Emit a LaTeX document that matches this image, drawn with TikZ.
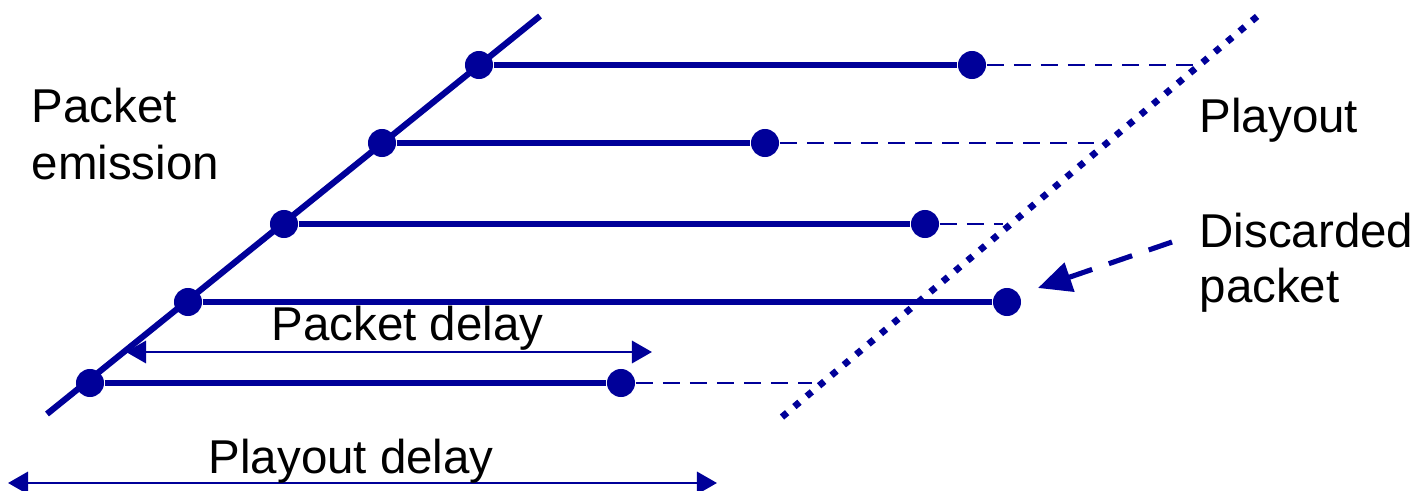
\documentclass[tikz,border=0pt]{standalone}
\usepackage{fontspec}
\setmainfont{Liberation Sans}
\usetikzlibrary{arrows.meta}
\definecolor{navy}{RGB}{0,0,153}
\begin{document}
\begin{tikzpicture}[x=0.01cm,y=-0.01cm,
  pkt/.style={circle,fill=navy,inner sep=0pt,minimum size=0.28cm},
  emitline/.style={draw=navy,line width=1.75pt},
  transit/.style={draw=navy,line width=1.45pt},
  holdline/.style={draw=navy,line width=0.7pt,dash pattern=on 4.8pt off 2.9pt},
  playline/.style={draw=navy,line width=1.9pt,dash pattern=on 1.9pt off 2.7pt},
  spanarrow/.style={draw=navy,line width=0.85pt,
    {Triangle[length=5.7pt,width=6.3pt]}-{Triangle[length=5.7pt,width=6.3pt]}},
  discard/.style={draw=navy,line width=1.45pt,dash pattern=on 7pt off 5pt,
    -{Triangle[length=9.5pt,width=8.5pt]}},
  txt/.style={font=\fontsize{13.5}{16}\selectfont,inner sep=0pt,anchor=base west}
]
\useasboundingbox (0,0) rectangle (1420,491);

% emission and playout time lines
\coordinate (e0) at (47,414);
\coordinate (e1) at (540,16);
\coordinate (p0) at (782,417);
\coordinate (p1) at (1260,14);
\draw[emitline] (e0) -- (e1);
\draw[playline] (p0) -- (p1);

% packets: sent (s), received (r), playout instant (w)
\node[pkt] (s1) at (90,383) {};
\node[pkt] (s2) at (188,302) {};
\node[pkt] (s3) at (284,224) {};
\node[pkt] (s4) at (382,143) {};
\node[pkt] (s5) at (479,65) {};

\node[pkt] (r1) at (621,383) {};
\node[pkt] (r2) at (1007,302) {};
\node[pkt] (r3) at (925,224) {};
\node[pkt] (r4) at (765,143) {};
\node[pkt] (r5) at (972,65) {};

\coordinate (w1) at (812,383);
\coordinate (w3) at (1003,224);
\coordinate (w4) at (1097,143);
\coordinate (w5) at (1195,65);

\draw[transit] (s1) -- (r1);
\draw[transit] (s2) -- (r2);
\draw[transit] (s3) -- (r3);
\draw[transit] (s4) -- (r4);
\draw[transit] (s5) -- (r5);

\draw[holdline] (r1.east) -- (w1);
\draw[holdline] (r3.east) -- (w3);
\draw[holdline] (r4.east) -- (w4);
\draw[holdline] (r5.east) -- (w5);

% delay spans
\coordinate (pd0) at (126,352);
\coordinate (pd1) at (652,352);
\coordinate (ld0) at (8,483);
\coordinate (ld1) at (717,483);
\draw[spanarrow] (pd0) -- (pd1);
\draw[spanarrow] (ld0) -- (ld1);

% pointer to the late packet
\coordinate (dtail) at (1172,242);
\coordinate (dtip) at (1038,288);
\draw[discard] (dtail) -- (dtip);

% labels
\node[txt] (t1) at (31,123) {Packet};
\node[txt] (t2) at (31,180) {emission};
\node[txt] (t3) at (1199,133) {Playout};
\node[txt] (t4) at (1199,248) {Discarded};
\node[txt] (t5) at (1199,303) {packet};
\node[txt] (t6) at (271,341) {Packet delay};
\node[txt] (t7) at (208,474) {Playout delay};
\end{tikzpicture}
\end{document}
